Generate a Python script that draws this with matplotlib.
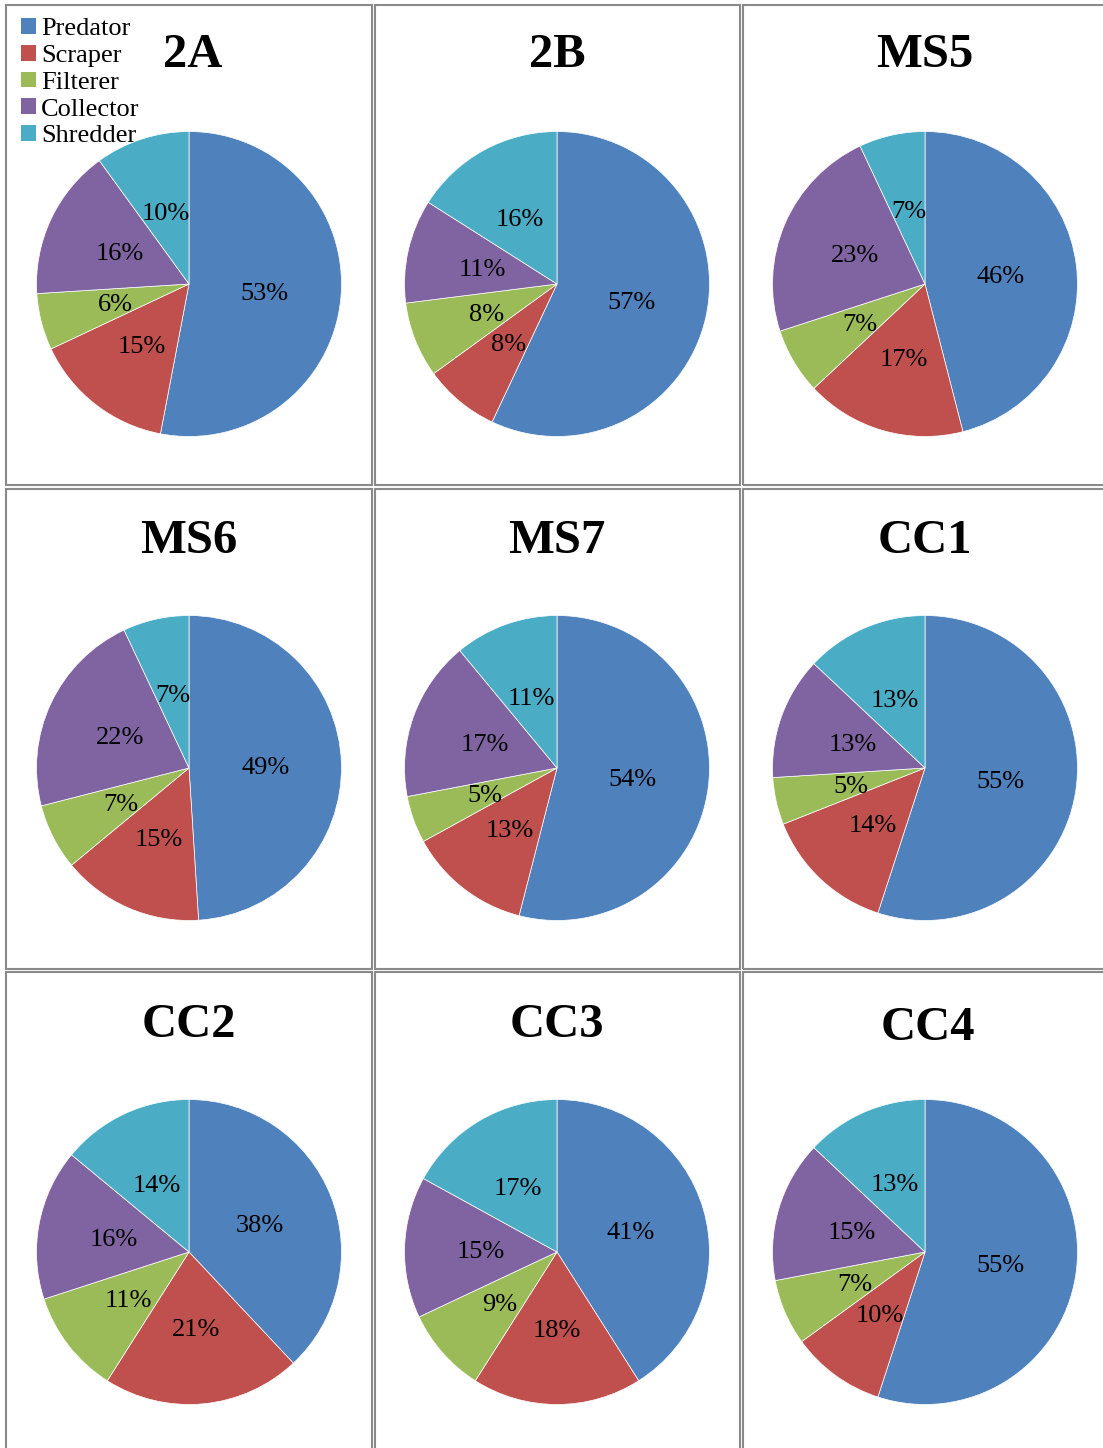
import matplotlib
matplotlib.use("Agg")
import matplotlib.pyplot as plt
from matplotlib.patches import Rectangle, Patch

groups = ["Predator", "Scraper", "Filterer", "Collector", "Shredder"]
colors = ["#4F81BD", "#C0504D", "#9BBB59", "#8064A2", "#4BACC6"]

sites = ["2A", "2B", "MS5", "MS6", "MS7", "CC1", "CC2", "CC3", "CC4"]
s_2A = [53, 15, 6, 16, 10]
s_2B = [57, 8, 8, 11, 16]
s_MS5 = [46, 17, 7, 23, 7]
s_MS6 = [49, 15, 7, 22, 7]
s_MS7 = [54, 13, 5, 17, 11]
s_CC1 = [55, 14, 5, 13, 13]
s_CC2 = [38, 21, 11, 16, 14]
s_CC3 = [41, 18, 9, 15, 17]
s_CC4 = [55, 10, 7, 15, 13]
shares = [s_2A, s_2B, s_MS5, s_MS6, s_MS7, s_CC1, s_CC2, s_CC3, s_CC4]

W, H = 1103, 1448
fig = plt.figure(figsize=(W / 100, H / 100), dpi=100)
serif = "Liberation Serif"

# panel frames, pixel coords (left, top, right, bottom)
col_x = [(6, 372), (375, 740), (743, 1112)]
row_y = [(5, 485), (489, 969), (972, 1455)]
col_c = [189, 557, 925]
row_c = [284, 768, 1252]
title_y = [55, 541, 1025]
R = 154

def fx(x):
    return x / W

def fy(y):
    return 1 - y / H

for i, (site, vals) in enumerate(zip(sites, shares)):
    r, c = divmod(i, 3)
    x0, x1 = col_x[c]
    y0, y1 = row_y[r]
    fig.patches.append(Rectangle((fx(x0), fy(y1)), fx(x1 - x0), (y1 - y0) / H,
                                 transform=fig.transFigure, fill=False,
                                 edgecolor="#8a8a8a", lw=1.5, zorder=0))
    cx, cy = col_c[c], row_c[r]
    ax = fig.add_axes([fx(cx - R), fy(cy + R), 2 * R / W, 2 * R / H])
    ax.pie(vals, colors=colors, startangle=90, counterclock=False,
           autopct=lambda p: f"{p:.0f}%", pctdistance=0.5,
           wedgeprops=dict(edgecolor="white", linewidth=0.5),
           textprops=dict(family=serif, fontsize=19, color="black",
                          va="center_baseline"))
    ax.set_xlim(-1.01, 1.01)
    ax.set_ylim(-1.01, 1.01)
    tx = cx + (4 if site == "2A" else 3 if site == "CC4" else 0)
    ty = title_y[r] + (3 if site == "CC4" else 0)
    fig.text(fx(tx), fy(ty), site, ha="center", va="center",
             family=serif, fontsize=35, fontweight="bold")

handles = [Patch(facecolor=col, edgecolor="none") for col in colors]
fig.legend(handles, groups, loc="upper left", bbox_to_anchor=(fx(21), fy(18)),
           frameon=False, prop=dict(family=serif, size=19),
           handlelength=0.55, handleheight=0.55, handletextpad=0.2,
           labelspacing=0.17, borderpad=0, borderaxespad=0)

fig.savefig("out.png", dpi=100)
